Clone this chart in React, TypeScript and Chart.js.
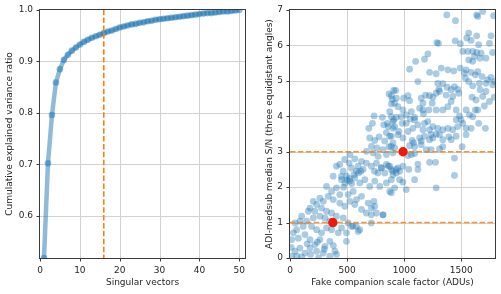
import React, { useEffect, useRef } from "react";
import { Chart, registerables } from "chart.js";

Chart.register(...registerables);

// ---------- Left panel data ----------
const singularVectors = Array.from({ length: 50 }, (_, i) => i + 1);
const cumulativeVariance = [
  0.518, 0.702, 0.796, 0.859, 0.885, 0.903, 0.913, 0.921, 0.927, 0.933,
  0.938, 0.942, 0.946, 0.949, 0.952, 0.955, 0.958, 0.960, 0.963, 0.966,
  0.968, 0.970, 0.972, 0.973, 0.975, 0.976, 0.978, 0.979, 0.981, 0.982,
  0.983, 0.984, 0.985, 0.986, 0.987, 0.988, 0.989, 0.990, 0.991, 0.992,
  0.993, 0.994, 0.994, 0.995, 0.996, 0.997, 0.997, 0.998, 0.999, 1.0,
];
const chosenVectors = 16;
const leftXTicks = [0, 10, 20, 30, 40, 50];
const leftYTicks = [0.6, 0.7, 0.8, 0.9, 1.0];

// ---------- Right panel data ----------
const snrPoints: [number, number][] = [
  // upper right
  [1373, 6.86], [1449, 6.7], [1635, 6.86], [1644, 6.82], [1687, 6.96], [1783, 6.84],
  [1565, 6.35], [1635, 6.27], [1548, 6.21], [1760, 6.27], [1286, 6.08], [1300, 6.06],
  [1446, 6.13], [1492, 6.05], [1585, 6.14], [1652, 6.02], [1746, 6.06], [1513, 5.83],
  [1557, 5.83], [1600, 5.83], [1635, 5.8], [1673, 5.78], [1775, 5.8], [1207, 5.76],
  [1178, 5.61], [1100, 5.55], [1047, 5.33], [1565, 5.59], [1600, 5.55], [1664, 5.64],
  [1716, 5.64], [1615, 5.69], [1222, 5.24], [1280, 5.2], [1324, 5.36], [1382, 5.31],
  [1434, 5.28], [1490, 5.36], [1542, 5.31], [1527, 5.22], [1585, 5.24], [1644, 5.26],
  [1623, 5.17], [1682, 5.12], [1731, 5.03], [1760, 5.1], [1789, 4.98], [1716, 4.93],
  [1775, 4.89], [1536, 5.08], [1565, 4.98], [1600, 4.86], [1658, 4.93], [1120, 4.98],
  [1338, 4.92], [1376, 4.82], [1411, 4.75], [1440, 4.84], [1469, 4.76], [1478, 4.65],
  [1425, 4.56], [1367, 4.6], [1303, 4.76], [1280, 4.65], [1251, 4.54], [1222, 4.58],
  [1187, 4.6], [1149, 4.51], [1164, 4.37], [1294, 4.93], [1309, 4.7], [1664, 4.75],
  [1687, 4.56], [1629, 4.46], [1594, 4.54], [1716, 4.7], [1746, 4.42], [1702, 4.29],
  [1789, 4.54], [925, 4.73], [1033, 4.58], [1047, 4.44], [995, 4.51], [931, 4.51],
  [887, 4.58], [916, 4.37], [945, 4.27], [989, 4.18], [974, 3.99], [1018, 4.04],
  [1062, 4.13], [1091, 3.97], [1135, 4.23], [1164, 4.18], [1169, 4.07], [1216, 4.18],
  [1245, 4.37], [1280, 4.18], [1338, 4.18], [1382, 4.27], [1411, 4.42], [1455, 4.18],
  [1484, 4.01], [1455, 3.9], [1498, 3.9], [1542, 4.18], [1571, 4.04], [1623, 4.18],
  [1600, 3.99], [1644, 4.18], [1652, 3.8], [1711, 3.66], [1586, 3.66], [1542, 3.66],
  [1513, 3.8], [1469, 3.71], [1425, 3.62], [1382, 3.66], [1338, 3.62], [1294, 3.66],
  [1251, 3.71], [1207, 3.85], [1178, 3.8], [1120, 3.76], [1091, 3.9], [1053, 3.92],
  [1018, 3.8], [983, 3.8], [931, 3.97], [902, 3.85], [887, 3.99], [916, 3.71],
  [954, 3.57], [1033, 3.57], [1076, 3.66], [1164, 3.62], [1222, 3.62], [1280, 3.5],
  // middle right
  [887, 3.44], [945, 3.48], [989, 3.39], [1070, 3.32], [1082, 3.25], [1135, 3.39],
  [1149, 3.3], [1178, 3.44], [1222, 3.34], [1236, 3.48], [1251, 3.39], [1309, 3.48],
  [1338, 3.34], [1391, 3.42], [1411, 3.34], [1455, 3.44], [1542, 3.48], [887, 3.15],
  [916, 3.11], [1047, 3.17], [1091, 3.14], [1149, 3.2], [1193, 3.06], [1236, 3.06],
  [1309, 3.08], [1338, 3.14], [1507, 3.14], [1062, 2.92], [1091, 2.95], [1033, 2.89],
  [1440, 2.82], [873, 2.59], [945, 2.54], [989, 2.59], [960, 2.45], [902, 2.35],
  [931, 2.4], [887, 2.21], [960, 2.21], [989, 2.14], [916, 1.98], [887, 1.84],
  [1018, 1.93], [1091, 2.21], [1120, 2.5], [1222, 2.7], [1274, 2.7], [1440, 2.33],
  [1280, 1.98], [1040, 2.5], [1120, 2.65],
  // middle
  [867, 4.63], [908, 4.73], [888, 4.35], [896, 4.48], [736, 4.01], [809, 3.97],
  [690, 3.66], [722, 3.8], [821, 3.76], [853, 3.8], [861, 3.71], [844, 3.54],
  [908, 3.9], [873, 4.13], [902, 3.66],
  [698, 3.39], [742, 3.32], [780, 3.42], [829, 3.3], [873, 3.44], [902, 3.25],
  [713, 3.15], [762, 3.11], [815, 3.06], [867, 3.14], [669, 3.01], [902, 2.97],
  [844, 2.92], [771, 2.87], [727, 2.97],
  [407, 2.59], [436, 2.64], [480, 2.78], [524, 2.92], [518, 2.68], [567, 2.8],
  [597, 2.59], [626, 2.73], [669, 2.68], [713, 2.59], [757, 2.68], [800, 2.54],
  [844, 2.64], [888, 2.5], [640, 2.5], [582, 2.45], [538, 2.54], [466, 2.45],
  [378, 2.31], [451, 2.21], [495, 2.31], [480, 2.12], [524, 2.17], [567, 2.26],
  [611, 2.12], [655, 2.21], [698, 2.02], [742, 2.17], [786, 2.02], [844, 2.12],
  [873, 1.88], [320, 2.02], [364, 1.88], [407, 1.98], [436, 1.79], [509, 1.79],
  [553, 1.88], [582, 1.65], [626, 1.74], [684, 1.55], [713, 1.41], [757, 1.27],
  [815, 1.22], [669, 1.27], [626, 1.37], [567, 1.51], [524, 1.6], [480, 1.46],
  [436, 1.55], [378, 1.65], [335, 1.74], [291, 1.6], [262, 1.69], [233, 1.51],
  [204, 1.6], [175, 1.41], [160, 1.32], [218, 1.32], [276, 1.41], [320, 1.32],
  [364, 1.27], [407, 1.18], [466, 1.13], [509, 0.99], [538, 0.89], [597, 0.75],
  [495, 0.71], [451, 0.85], [422, 0.71], [364, 0.8], [320, 0.85], [276, 0.71],
  [233, 0.8], [189, 0.89], [146, 1.04], [116, 0.89], [87, 1.04], [58, 0.8],
  [29, 0.71], [15, 0.52], [73, 0.56], [131, 0.66], [175, 0.52], [218, 0.38],
  [262, 0.52], [306, 0.33], [349, 0.47], [393, 0.19], [291, 0.14], [233, 0.19],
  [175, 0.28], [131, 0.14], [87, 0.28], [44, 0.19], [15, 0.05], [102, 0.03],
  [349, 0.05], [262, 1.18], [306, 1.13], [349, 1.04], [204, 1.13], [102, 1.18],
  [44, 0.99],
  // extras
  [407, 0.1], [494, 0.47], [581, 0.89], [610, 0.8], [712, 0.99], [712, 1.22],
  [741, 1.46], [735, 1.6], [814, 1.22], [552, 0.9], [60, 0.05], [180, 0.1],
  [250, 0.0], [300, 0.25], [380, 0.35], [10, 0.3], [150, 0.4], [240, 0.45],
  [500, 2.2], [520, 2.25], [540, 2.1], [600, 2.4], [620, 2.45], [560, 2.35],
  [470, 2.0], [450, 2.3], [740, 2.45], [770, 2.4], [800, 2.55], [830, 2.4],
  [860, 2.6], [900, 2.45], [930, 2.5],
];
const markedPoints: [number, number][] = [[375, 1.0], [990, 3.0]];
const snrThresholds = [1, 3];
const rightXTicks = [0, 500, 1000, 1500];
const rightYTicks = [0, 1, 2, 3, 4, 5, 6, 7];

// ---------- Styles ----------
const FONT = "'DejaVu Sans', sans-serif";
const TEXT = "#262626";
const ORANGE = "#ff7f0e";
const GRID = "#d2d2d2";
const SPINE = "#3a3a3a";

// Grid lines, tick marks and the axes frame (positions from the chart's own scales)
const framePlugin = {
  id: "frame",
  beforeDatasetsDraw(chart: any) {
    const { ctx, chartArea } = chart;
    const { left, top, right, bottom } = chartArea;
    ctx.save();
    ctx.lineWidth = 1;
    const xs = chart.scales.x;
    const ys = chart.scales.y;
    const xt: number[] = xs.options.tickValues || [];
    const yt: number[] = ys.options.tickValues || [];
    for (const v of xt) {
      const px = Math.round(xs.getPixelForValue(v)) + 0.5;
      if (px > left + 1 && px < right - 1) {
        ctx.strokeStyle = GRID;
        ctx.beginPath();
        ctx.moveTo(px, top);
        ctx.lineTo(px, bottom);
        ctx.stroke();
      }
      ctx.strokeStyle = SPINE;
      ctx.beginPath();
      ctx.moveTo(px, bottom);
      ctx.lineTo(px, bottom + 3.5);
      ctx.stroke();
    }
    for (const v of yt) {
      const py = Math.round(ys.getPixelForValue(v)) + 0.5;
      if (py > top + 1 && py < bottom - 1) {
        ctx.strokeStyle = GRID;
        ctx.beginPath();
        ctx.moveTo(left, py);
        ctx.lineTo(right, py);
        ctx.stroke();
      }
      ctx.strokeStyle = SPINE;
      ctx.beginPath();
      ctx.moveTo(left - 3.5, py);
      ctx.lineTo(left, py);
      ctx.stroke();
    }
    ctx.restore();
  },
  afterDatasetsDraw(chart: any) {
    const { ctx, chartArea } = chart;
    const { left, top, right, bottom } = chartArea;
    ctx.save();
    ctx.strokeStyle = SPINE;
    ctx.lineWidth = 1;
    ctx.strokeRect(Math.round(left) - 0.5, Math.round(top) - 0.5, Math.round(right - left) + 1, Math.round(bottom - top) + 1);
    ctx.restore();
  },
};

function makeScale(
  axis: "x" | "y",
  min: number,
  max: number,
  ticks: number[],
  title: string,
  titlePad: number,
  fmt: (v: number) => string
) {
  return {
    type: "linear",
    min,
    max,
    tickValues: ticks,
    afterBuildTicks: (s: any) => {
      s.ticks = ticks.map((v) => ({ value: v }));
    },
    afterFit: (s: any) => {
      if (axis === "x") s.height = 36;
      else s.width = 40;
    },
    border: { display: false },
    grid: {
      display: true,
      drawOnChartArea: false,
      drawTicks: true,
      tickLength: 4,
      color: "rgba(0,0,0,0)",
      tickColor: "rgba(0,0,0,0)",
    },
    ticks: {
      autoSkip: false,
      maxRotation: 0,
      padding: 3,
      color: TEXT,
      font: { family: FONT, size: 9 },
      callback: (v: any) => fmt(Number(v)),
    },
    title: {
      display: true,
      text: title,
      color: TEXT,
      font: { family: FONT, size: 9 },
      padding: axis === "x" ? { top: 0, bottom: titlePad } : { top: titlePad, bottom: 0 },
    },
  };
}

function LeftChart() {
  const ref = useRef<HTMLCanvasElement>(null);
  useEffect(() => {
    const yMin = cumulativeVariance[0];
    const yMax = 1.0;
    const chart = new Chart(ref.current as HTMLCanvasElement, {
      type: "scatter",
      data: {
        datasets: [
          {
            data: [
              { x: chosenVectors, y: yMin - 0.05 },
              { x: chosenVectors, y: yMax + 0.05 },
            ],
            showLine: true,
            borderColor: ORANGE,
            borderWidth: 1.6,
            borderDash: [5.5, 2.4],
            pointRadius: 0,
            clip: 0,
          } as any,
          {
            data: singularVectors.map((x, i) => ({ x, y: cumulativeVariance[i] })),
            showLine: true,
            borderColor: "rgba(31,119,180,0.5)",
            borderWidth: 4.5,
            backgroundColor: "rgba(31,119,180,0.5)",
            pointRadius: 3.3,
            pointBorderWidth: 0,
            clip: 0,
          } as any,
        ],
      },
      options: {
        animation: false,
        responsive: false,
        maintainAspectRatio: false,
        layout: { padding: { left: 0, right: 5, top: 10, bottom: 0 } },
        plugins: { legend: { display: false }, tooltip: { enabled: false } },
        events: [],
        scales: {
          x: makeScale("x", 0, 51.43, leftXTicks, "Singular vectors", 6, (v) => String(v)),
          y: makeScale("y", yMin, yMax, leftYTicks, "Cumulative explained variance ratio", 4.5, (v) => v.toFixed(1)),
        } as any,
      },
      plugins: [framePlugin],
    });
    return () => chart.destroy();
  }, []);
  return <canvas ref={ref} width={250} height={294} style={{ position: "absolute", left: 0, top: 0, width: 250, height: 294 }} />;
}

function RightChart() {
  const ref = useRef<HTMLCanvasElement>(null);
  useEffect(() => {
    const xMax = 1795;
    const chart = new Chart(ref.current as HTMLCanvasElement, {
      type: "scatter",
      data: {
        datasets: [
          {
            data: markedPoints.map(([x, y]) => ({ x, y })),
            backgroundColor: "#f01a0a",
            pointRadius: 4.7,
            pointBorderWidth: 0,
            order: 1,
            clip: 0,
          } as any,
          ...snrThresholds.map((t) => ({
            data: [
              { x: 0, y: t },
              { x: xMax + 100, y: t },
            ],
            showLine: true,
            borderColor: "rgba(255,127,14,0.85)",
            borderWidth: 1.6,
            borderDash: [5.5, 2.4],
            pointRadius: 0,
            order: 2,
            clip: 0,
          })),
          {
            data: snrPoints.map(([x, y]) => ({ x, y })),
            backgroundColor: "rgba(31,119,180,0.38)",
            pointRadius: 3.4,
            pointBorderWidth: 0,
            order: 3,
            clip: 0,
          } as any,
        ],
      },
      options: {
        animation: false,
        responsive: false,
        maintainAspectRatio: false,
        layout: { padding: { left: 0, right: 6, top: 10, bottom: 0 } },
        plugins: { legend: { display: false }, tooltip: { enabled: false } },
        events: [],
        scales: {
          x: makeScale("x", 0, xMax, rightXTicks, "Fake companion scale factor (ADUs)", 6, (v) => String(v)),
          y: makeScale("y", 0, 7, rightYTicks, "ADI-medsub median S/N (three equidistant angles)", 14.5, (v) => String(v)),
        } as any,
      },
      plugins: [framePlugin],
    });
    return () => chart.destroy();
  }, []);
  return <canvas ref={ref} width={251} height={294} style={{ position: "absolute", left: 250, top: 0, width: 251, height: 294 }} />;
}

export default function App() {
  return (
    <div style={{ position: "fixed", left: 0, top: 0, width: 501, height: 294, background: "#ffffff" }}>
      <LeftChart />
      <RightChart />
    </div>
  );
}
